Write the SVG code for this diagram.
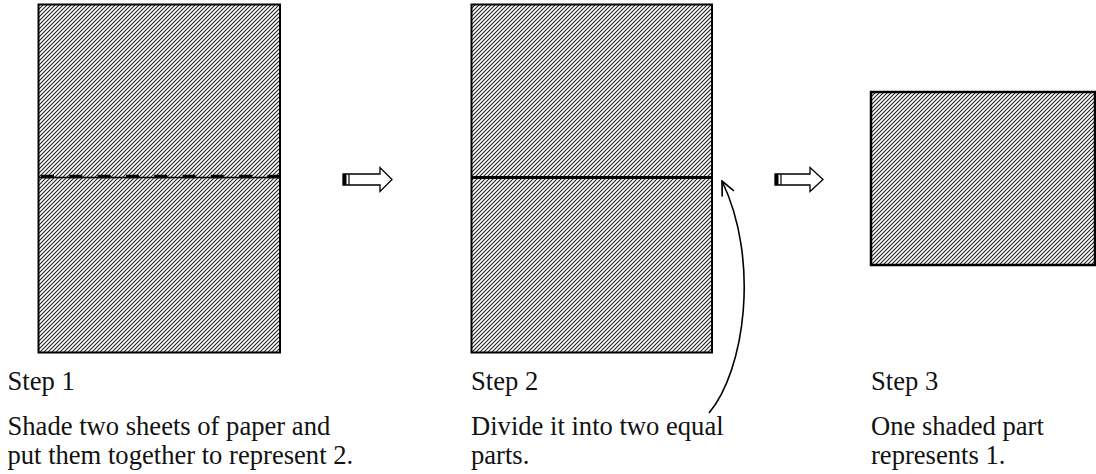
<svg xmlns="http://www.w3.org/2000/svg" width="1096" height="474" viewBox="0 0 1096 474">
<style>
.sheet{fill:url(#hatch);stroke:#000;stroke-width:2}
.lbl{font-family:"Liberation Serif","Times New Roman",serif;font-size:26.6px;fill:#111}
.blk{fill:#fff;stroke:#000;stroke-width:1.3;stroke-linejoin:miter}
.curve{fill:none;stroke:#000;stroke-width:1.6}
</style>
<defs>
<pattern id="hatch" patternUnits="userSpaceOnUse" width="4" height="4">
<rect width="4" height="4" fill="#fff"/>
<path d="M-1,1 L1,-1 M0,4 L4,0 M3,5 L5,3" stroke="#222" stroke-width="1.1"/>
</pattern>
<marker id="openhead" viewBox="0 0 16 16" refX="15" refY="8" markerWidth="16" markerHeight="16" markerUnits="userSpaceOnUse" orient="auto">
<path d="M1,1.5 L15,8 L1,14.5" fill="none" stroke="#000" stroke-width="1.7"/>
</marker>
</defs>

<g id="step1">
<rect class="sheet" x="38.5" y="4.5" width="241.5" height="348"/>
<line x1="38.5" y1="177.5" x2="280" y2="177.5" stroke="#000" stroke-width="1.6"/>
<line x1="41" y1="176.5" x2="280" y2="176.5" stroke="#000" stroke-width="3.5" stroke-dasharray="13 15.3"/>
<text class="lbl" x="7.5" y="390">Step 1</text>
<text class="lbl" x="7.5" y="435">Shade two sheets of paper and</text>
<text class="lbl" x="7.5" y="464">put them together to represent 2.</text>
</g>

<g id="step2">
<rect class="sheet" x="471.5" y="4.5" width="240.5" height="348"/>
<line x1="471.5" y1="177.5" x2="712" y2="177.5" stroke="#000" stroke-width="3"/>
<text class="lbl" x="471" y="390">Step 2</text>
<text class="lbl" x="471" y="435">Divide it into two equal</text>
<text class="lbl" x="471" y="464">parts.</text>
</g>

<g id="step3">
<rect class="sheet" x="871" y="92" width="224" height="173" style="stroke-width:2.5"/>
<text class="lbl" x="871" y="390">Step 3</text>
<text class="lbl" x="871" y="435">One shaded part</text>
<text class="lbl" x="871" y="464">represents 1.</text>
</g>

<g id="connectors">
<g id="arrow1">
<path class="blk" d="M343,174 L380,174 L380,167.5 L392,179.5 L380,191.5 L380,185 L343,185 Z"/>
<rect x="343" y="174" width="3.5" height="11" fill="#000"/>
<line x1="349" y1="174" x2="349" y2="185" stroke="#000" stroke-width="1.2"/>
</g>
<g id="arrow2">
<path class="blk" d="M775,174 L810,174 L810,167.5 L823,179.5 L810,191.5 L810,185 L775,185 Z"/>
<rect x="775" y="174" width="3.5" height="11" fill="#000"/>
<line x1="781" y1="174" x2="781" y2="185" stroke="#000" stroke-width="1.2"/>
</g>
<path class="curve" d="M709,413 C745,370 760,260 722,181" marker-end="url(#openhead)"/>
</g>
</svg>
